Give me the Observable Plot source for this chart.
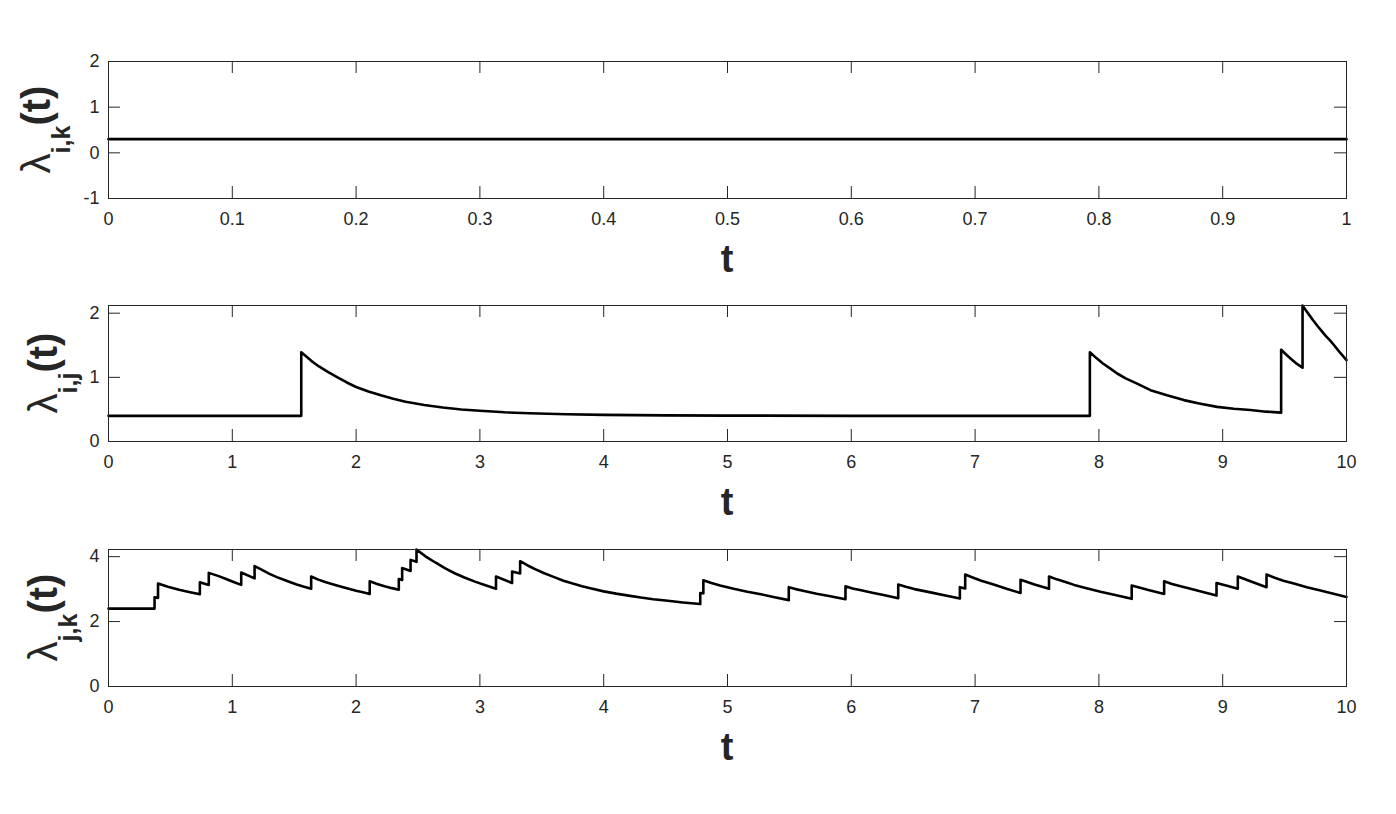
<!DOCTYPE html>
<html>
<head>
<meta charset="utf-8">
<script src="https://cdn.jsdelivr.net/npm/d3@7"></script>
<script src="https://cdn.jsdelivr.net/npm/@observablehq/plot@0.6"></script>
<style>
  html, body { margin: 0; padding: 0; background: #fff; }
  #chart { width: 1396px; height: 814px; }
  #chart svg { display: block; }
</style>
</head>
<body>
<div id="chart"></div>
<script>
// ---- Panel 1: lambda_{i,k}(t) ----
const tIK = [0, 1];
const lamIK = [0.3, 0.3];
const xTicksIK = [0, 0.1, 0.2, 0.3, 0.4, 0.5, 0.6, 0.7, 0.8, 0.9, 1];
const xTickLabelsIK = ["0", "0.1", "0.2", "0.3", "0.4", "0.5", "0.6", "0.7", "0.8", "0.9", "1"];
const yTicksIK = [-1, 0, 1, 2];

// ---- Panel 2: lambda_{i,j}(t) ----
const tIJ = [0, 1.557, 1.557, 1.6, 1.65, 1.7, 1.775, 1.85, 1.925, 2.0, 2.1, 2.2, 2.3, 2.4, 2.55,
  2.7, 2.85, 3.0, 3.2, 3.4, 3.7, 4.0, 4.5, 5.0, 6.0, 7.927,
  7.927, 7.98, 8.03, 8.09, 8.148, 8.22, 8.3, 8.417, 8.55, 8.686, 8.82, 8.955, 9.09, 9.224, 9.35, 9.472,
  9.472, 9.51, 9.55, 9.6, 9.645,
  9.645, 9.67, 9.70, 9.73, 9.766, 9.8, 9.83, 9.865, 9.9, 9.95, 10];
const lamIJ = [0.4, 0.4, 1.39, 1.32, 1.24, 1.17, 1.08, 1.0, 0.92, 0.85, 0.78, 0.72, 0.665, 0.62, 0.57,
  0.53, 0.50, 0.48, 0.455, 0.44, 0.425, 0.415, 0.408, 0.404, 0.40, 0.40,
  1.39, 1.30, 1.22, 1.14, 1.06, 0.98, 0.91, 0.80, 0.72, 0.645, 0.59, 0.54, 0.51, 0.49, 0.465, 0.45,
  1.43, 1.36, 1.29, 1.21, 1.15,
  2.12, 2.05, 1.97, 1.89, 1.80, 1.72, 1.65, 1.58, 1.50, 1.38, 1.27];
const xTicks10 = [0, 1, 2, 3, 4, 5, 6, 7, 8, 9, 10];
const yTicksIJ = [0, 1, 2];

// ---- Panel 3: lambda_{j,k}(t) ----
const tJK = [0, 0.372, 0.372, 0.40, 0.40, 0.48, 0.57, 0.65, 0.738, 0.738, 0.81, 0.81, 0.89, 0.95, 1.01, 1.072,
  1.072, 1.18, 1.18, 1.24, 1.30, 1.36, 1.416, 1.47, 1.52, 1.58, 1.637,
  1.637, 1.69, 1.75, 1.81, 1.874, 1.94, 2.0, 2.055, 2.11,
  2.11, 2.17, 2.23, 2.29, 2.345, 2.345, 2.372, 2.372, 2.44, 2.44, 2.488,
  2.488, 2.56, 2.64, 2.72, 2.80, 2.88, 2.96, 3.045, 3.13,
  3.13, 3.26, 3.26, 3.325, 3.325, 3.39, 3.45, 3.525, 3.6, 3.675, 3.75, 3.825, 3.9, 4.0, 4.1, 4.2,
  4.3, 4.4, 4.5, 4.64, 4.78,
  4.78, 4.805, 4.805, 4.87, 4.94, 5.05, 5.16, 5.27, 5.38, 5.495,
  5.495, 5.55, 5.61, 5.72, 5.83, 5.953,
  5.953, 6.01, 6.07, 6.17, 6.27, 6.379,
  6.379, 6.44, 6.51, 6.64, 6.76, 6.877,
  6.877, 6.92, 6.92, 6.98, 7.05, 7.15, 7.26, 7.367,
  7.367, 7.48, 7.597,
  7.597, 7.66, 7.73, 7.80, 7.90, 8.013, 8.14, 8.265,
  8.265, 8.40, 8.527,
  8.527, 8.59, 8.66, 8.74, 8.84, 8.95,
  8.95, 9.035, 9.122,
  9.122, 9.24, 9.354,
  9.354, 9.42, 9.49, 9.575, 9.68, 9.79, 9.895, 10];
const lamJK = [2.40, 2.40, 2.75, 2.73, 3.17, 3.07, 2.98, 2.91, 2.84, 3.21, 3.13, 3.50, 3.40, 3.31, 3.22, 3.13,
  3.51, 3.33, 3.71, 3.59, 3.47, 3.37, 3.29, 3.21, 3.14, 3.07, 3.01,
  3.39, 3.30, 3.22, 3.15, 3.08, 3.01, 2.95, 2.90, 2.85,
  3.24, 3.16, 3.09, 3.03, 2.98, 3.31, 3.28, 3.65, 3.56, 3.90, 3.84,
  4.22, 4.01, 3.82, 3.64, 3.48, 3.35, 3.23, 3.12, 3.01,
  3.39, 3.19, 3.54, 3.48, 3.86, 3.72, 3.61, 3.48, 3.37, 3.26, 3.17, 3.09, 3.02, 2.93, 2.86, 2.80,
  2.74, 2.69, 2.65, 2.59, 2.54,
  2.88, 2.87, 3.27, 3.19, 3.11, 3.01, 2.92, 2.84, 2.75, 2.66,
  3.06, 3.00, 2.95, 2.86, 2.78, 2.69,
  3.09, 3.02, 2.97, 2.89, 2.81, 2.72,
  3.14, 3.07, 3.00, 2.90, 2.80, 2.71,
  3.06, 3.02, 3.45, 3.36, 3.26, 3.14, 3.00, 2.88,
  3.29, 3.14, 3.01,
  3.39, 3.30, 3.22, 3.13, 3.03, 2.92, 2.81, 2.70,
  3.11, 2.97, 2.85,
  3.24, 3.16, 3.09, 3.01, 2.91, 2.80,
  3.19, 3.10, 3.01,
  3.39, 3.22, 3.06,
  3.45, 3.35, 3.26, 3.17, 3.06, 2.96, 2.86, 2.76];
const yTicksJK = [0, 2, 4];

const FONT = "'Liberation Sans', Helvetica, Arial, sans-serif";
const AX = "#262626";
const W = 1396, ML = 108, MR = 50;
const TICK = 12;

function panel({t, lam, xDomain, yDomain, xTicks, xLabels, yTicks, height, marginTop, marginBottom, sub, ylabX}) {
  const innerH = height - marginTop - marginBottom;
  const innerW = W - ML - MR;
  const data = t.map((d, i) => ({t: d, v: lam[i]}));
  const svg = Plot.plot({
    width: W, height, marginLeft: ML, marginRight: MR, marginTop, marginBottom,
    style: {fontFamily: FONT, fontSize: "18px", color: AX, background: "white", overflow: "visible"},
    x: {domain: xDomain},
    y: {domain: yDomain},
    marks: [
      Plot.line(data, {x: "t", y: "v", stroke: "black", strokeWidth: 2.6}),
      Plot.ruleX(xTicks, {x: d => d, insetTop: innerH - TICK, stroke: AX, strokeWidth: 1}),
      Plot.ruleX(xTicks, {x: d => d, insetBottom: innerH - TICK, stroke: AX, strokeWidth: 1}),
      Plot.ruleY(yTicks, {y: d => d, insetRight: innerW - TICK, stroke: AX, strokeWidth: 1}),
      Plot.ruleY(yTicks, {y: d => d, insetLeft: innerW - TICK, stroke: AX, strokeWidth: 1}),
      Plot.frame({stroke: AX, strokeWidth: 1}),
      Plot.axisX({ticks: xTicks, tickFormat: (d, i) => xLabels[i], tickSize: 0, tickPadding: 14, fontSize: 18, color: AX, label: null}),
      Plot.axisY({ticks: yTicks, tickFormat: d => String(d), tickSize: 0, tickPadding: 9, fontSize: 18, color: AX, label: null})
    ]
  });
  const s = d3.select(svg);
  const yc = marginTop + innerH / 2;
  const lab = s.append("text")
    .attr("transform", `translate(${ylabX},${yc}) rotate(-90)`)
    .attr("text-anchor", "middle")
    .attr("fill", AX)
    .style("font-family", FONT)
    .style("font-size", "40px");
  lab.append("tspan").attr("font-weight", "normal").text("λ");
  lab.append("tspan").attr("font-weight", "bold").attr("font-size", "25px").attr("dy", 20).text(sub);
  lab.append("tspan").attr("font-weight", "bold").attr("dy", -20).text("(t)");
  s.append("text")
    .attr("x", ML + innerW / 2)
    .attr("y", marginTop + innerH + 74)
    .attr("text-anchor", "middle")
    .attr("fill", AX)
    .style("font-family", FONT)
    .style("font-size", "38px")
    .style("font-weight", "bold")
    .text("t");
  return svg;
}

const chart = document.getElementById("chart");
chart.append(panel({t: tIK, lam: lamIK, xDomain: [0, 1], yDomain: [-1, 2], xTicks: xTicksIK, xLabels: xTickLabelsIK,
  yTicks: yTicksIK, height: 280, marginTop: 61, marginBottom: 82, sub: "i,k", ylabX: 50}));
chart.append(panel({t: tIJ, lam: lamIJ, xDomain: [0, 10], yDomain: [0, 2.12], xTicks: xTicks10, xLabels: xTicks10.map(String),
  yTicks: yTicksIJ, height: 244, marginTop: 25, marginBottom: 83, sub: "i,j", ylabX: 57}));
chart.append(panel({t: tJK, lam: lamJK, xDomain: [0, 10], yDomain: [0, 4.22], xTicks: xTicks10, xLabels: xTicks10.map(String),
  yTicks: yTicksJK, height: 290, marginTop: 25, marginBottom: 128, sub: "j,k", ylabX: 57}));
</script>
</body>
</html>
